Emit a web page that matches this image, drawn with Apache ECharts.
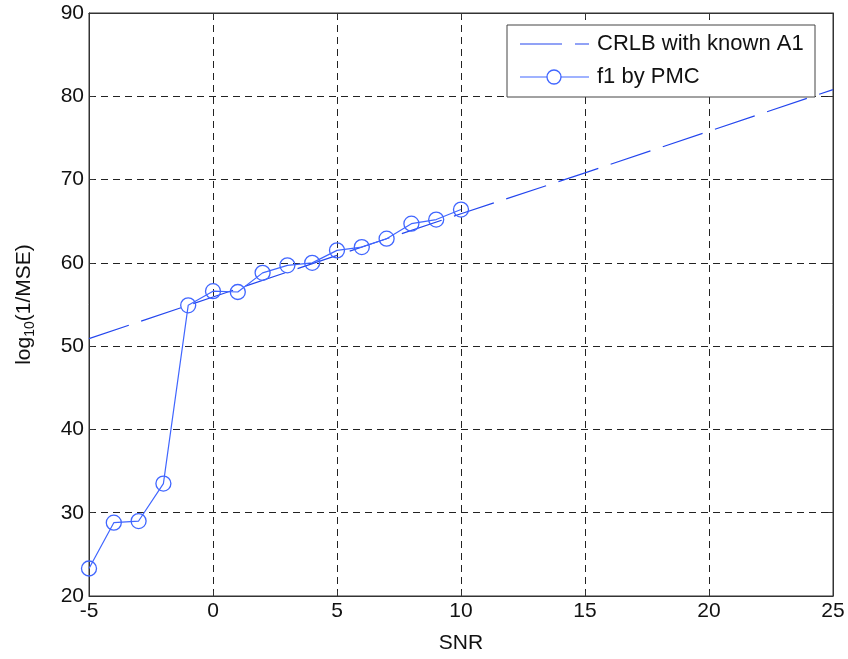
<!DOCTYPE html>
<html>
<head>
<meta charset="utf-8">
<script src="https://cdn.jsdelivr.net/npm/echarts@6/dist/echarts.min.js"></script>
<style>
html, body { margin: 0; padding: 0; background: #fff; }
#chart { width: 848px; height: 659px; }
</style>
</head>
<body>
<div id="chart"></div>
<script>
// 数据：从图上读出来的
const snrPmc = [-5, -4, -3, -2, -1, 0, 1, 2, 3, 4, 5, 6, 7, 8, 9, 10];
const valPmc = [23.3, 28.8, 29.0, 33.5, 54.9, 56.6, 56.5, 58.8, 59.7, 60.0, 61.5, 61.9, 62.9, 64.7, 65.2, 66.4];
const snrCrlb = [-5, 0, 5, 10, 15, 20, 25];
const valCrlb = [50.9, 55.9, 60.9, 65.9, 70.8, 75.8, 80.8];
const legendNames = ['CRLB with known A1', 'f1 by PMC'];

const font = 'Liberation Sans, Arial, Helvetica, sans-serif';
const crlbColor = '#2446ee';
const pmcColor = '#4066ff';
const gridLine = { show: true, lineStyle: { color: '#222', type: [7, 5], width: 1 } };
const tick = { show: true, inside: true, length: 5, lineStyle: { color: '#333' } };
const label = { fontFamily: font, fontSize: 21, color: '#111' };

const option = {
    animation: false,
    backgroundColor: '#fff',
    grid: { left: 89, right: 15, top: 13, bottom: 59, show: true, borderColor: '#333', borderWidth: 1 },
    xAxis: [
        {
            type: 'value',
            min: -5, max: 25, interval: 5,
            name: 'SNR', nameLocation: 'middle', nameGap: 37,
            nameTextStyle: label,
            axisLine: { onZero: false, lineStyle: { color: '#333' } },
            axisTick: tick,
            axisLabel: Object.assign({ margin: 5 }, label),
            splitLine: gridLine
        },
        {
            type: 'value', position: 'top',
            min: -5, max: 25, interval: 5,
            axisLine: { onZero: false, lineStyle: { color: '#333' } },
            axisTick: tick, axisLabel: { show: false }, splitLine: { show: false }
        }
    ],
    yAxis: [
        {
            type: 'value',
            min: 20, max: 90, interval: 10,
            name: '{a|log}{s|10}{a|(1/MSE)}', nameLocation: 'middle', nameGap: 52,
            nameTextStyle: {
                fontFamily: font, color: '#111',
                rich: {
                    a: { fontFamily: font, fontSize: 21, color: '#111' },
                    s: { fontFamily: font, fontSize: 14, color: '#111', padding: [12, 0, 0, 0] }
                }
            },
            axisLine: { show: true, onZero: false, lineStyle: { color: '#333' } },
            axisTick: tick,
            axisLabel: Object.assign({ margin: 5 }, label),
            splitLine: gridLine
        },
        {
            type: 'value', position: 'right',
            min: 20, max: 90, interval: 10,
            axisLine: { show: true, onZero: false, lineStyle: { color: '#333' } },
            axisTick: tick, axisLabel: { show: false }, splitLine: { show: false }
        }
    ],
    // 图例用 graphic 画，和原图的 MATLAB 图例一样
    graphic: [
        { type: 'rect', shape: { x: 507, y: 25, width: 308, height: 72 },
          style: { fill: '#fff', stroke: '#444', lineWidth: 1 }, z: 100 },
        { type: 'line', shape: { x1: 520, y1: 44, x2: 589, y2: 44 },
          style: { stroke: crlbColor, lineWidth: 1.2, lineDash: [42, 13] }, z: 101 },
        { type: 'text', left: 597, top: 33, z: 101,
          style: { text: legendNames[0], font: '22px ' + font, fill: '#111' } },
        { type: 'line', shape: { x1: 520, y1: 77, x2: 589, y2: 77 },
          style: { stroke: pmcColor, lineWidth: 1.2 }, z: 101 },
        { type: 'circle', shape: { cx: 554, cy: 77, r: 7 },
          style: { fill: '#fff', stroke: pmcColor, lineWidth: 1.3 }, z: 102 },
        { type: 'text', left: 597, top: 66, z: 101,
          style: { text: legendNames[1], font: '22px ' + font, fill: '#111' } }
    ],
    series: [
        {
            name: legendNames[0],
            type: 'line',
            data: snrCrlb.map((x, i) => [x, valCrlb[i]]),
            symbol: 'none',
            lineStyle: { color: crlbColor, width: 1.2, type: [42, 13] },
            z: 3
        },
        {
            name: legendNames[1],
            type: 'line',
            data: snrPmc.map((x, i) => [x, valPmc[i]]),
            symbol: 'circle',
            symbolSize: 15,
            lineStyle: { color: pmcColor, width: 1.2 },
            itemStyle: { color: 'rgba(0,0,0,0)', borderColor: pmcColor, borderWidth: 1.3 },
            z: 4
        }
    ]
};

const myChart = echarts.init(document.getElementById('chart'));
myChart.setOption(option);
</script>
</body>
</html>
